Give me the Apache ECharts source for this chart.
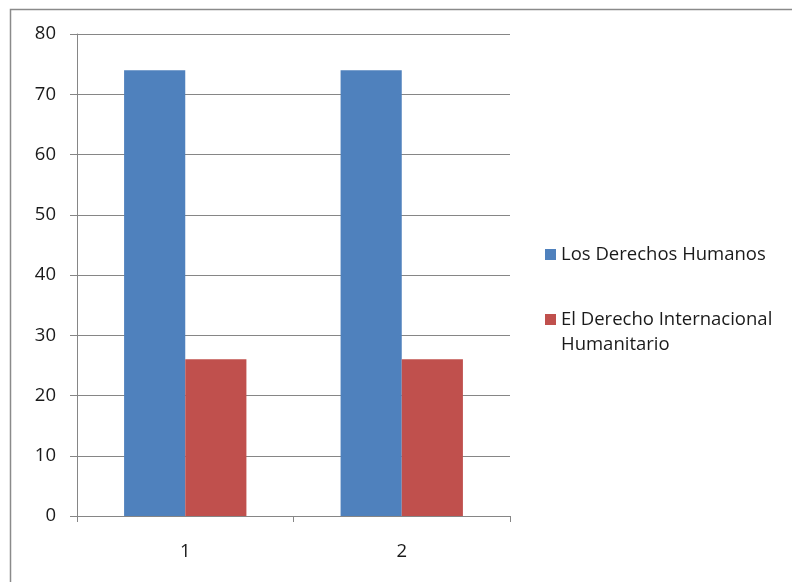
<!DOCTYPE html>
<html><head><meta charset="utf-8">
<script src="https://cdn.jsdelivr.net/npm/echarts@6/dist/echarts.min.js"></script>
<style>html,body{margin:0;padding:0;background:#fff}#c{width:792px;height:582px}</style>
</head><body><div id="c"></div>
<script>
const categories = ['1', '2'];
const seriesNames = ['Los Derechos Humanos', 'El Derecho Internacional Humanitario'];
const derechosHumanos = [74, 74];
const derechoInternacional = [26, 26];
const yTicks = [0, 10, 20, 30, 40, 50, 60, 70, 80];

const chart = echarts.init(document.getElementById('c'));
const font = 'Open Sans';
const fs = 18.5;
chart.setOption({
  animation: false,
  backgroundColor: '#fff',
  graphic: [{
    type: 'rect', shape: {x: 10.5, y: 9.5, width: 800, height: 600},
    style: {fill: 'none', stroke: '#8a8a8a', lineWidth: 1.5}, silent: true
  }],
  grid: {left: 77, right: 282, top: 34, bottom: 66},
  legend: [{
    data: [seriesNames[0]], orient: 'vertical', left: 545, top: 245, padding: 0,
    icon: 'rect', itemWidth: 11, itemHeight: 11, itemGap: 6,
    textStyle: {fontFamily: font, fontSize: fs, color: '#1a1a1a'}
  }, {
    data: [seriesNames[1]], orient: 'vertical', left: 545, top: 307, padding: 0,
    icon: 'path://M0,0L11,0L11,11L0,11Z M0,36', itemWidth: 11, itemHeight: 36,
    formatter: n => n.replace(' Humanitario', '\nHumanitario'),
    textStyle: {fontFamily: font, fontSize: fs, color: '#1a1a1a', lineHeight: 25}
  }],
  xAxis: {
    type: 'category', data: categories,
    axisLine: {lineStyle: {color: '#868686'}},
    axisTick: {show: true, length: 6, lineStyle: {color: '#868686'}},
    axisLabel: {fontFamily: font, fontSize: fs, color: '#1a1a1a', margin: 26}
  },
  yAxis: {
    type: 'value', min: yTicks[0], max: yTicks[yTicks.length - 1], interval: 10,
    axisLine: {show: true, lineStyle: {color: '#868686'}},
    axisTick: {show: true, length: 7, lineStyle: {color: '#868686'}},
    axisLabel: {fontFamily: font, fontSize: fs, color: '#1a1a1a', margin: 21},
    splitLine: {lineStyle: {color: '#868686'}}
  },
  series: [{
    name: seriesNames[0], type: 'bar', data: derechosHumanos,
    itemStyle: {color: '#4F81BD'}, barGap: '0%', barCategoryGap: '43.5%'
  }, {
    name: seriesNames[1], type: 'bar', data: derechoInternacional,
    itemStyle: {color: '#C0504D'}
  }]
});
</script></body></html>
